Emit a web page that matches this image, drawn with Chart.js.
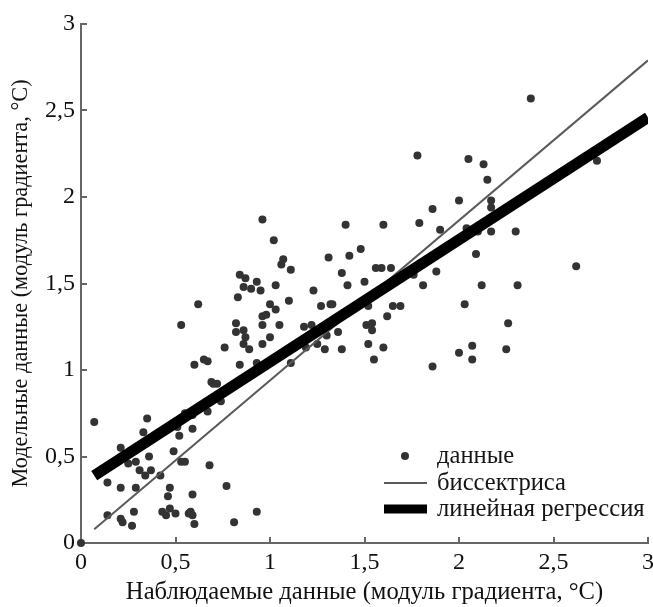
<!DOCTYPE html>
<html>
<head>
<meta charset="utf-8">
<script src="https://cdn.jsdelivr.net/npm/chart.js@4/dist/chart.umd.min.js"></script>
<style>
  html, body { margin: 0; padding: 0; background: #fff; }
  #wrap { width: 653px; height: 607px; position: relative; }
</style>
</head>
<body>
<div id="wrap"><canvas id="chart"></canvas></div>
<script>
const observed = [
  0, 0.07, 0.35, 0.33, 0.21, 0.25, 0.29, 0.31, 0.34, 0.37, 0.36, 0.14, 0.21, 0.29, 0.42, 0.47, 0.46, 0.43, 0.45, 0.47,
  0.50, 0.57, 0.58, 0.59, 0.59, 0.60, 0.14, 0.21, 0.22, 0.27, 0.28, 0.81, 0.93, 0.77, 0.68, 0.49, 0.53, 0.55, 0.52, 0.51,
  0.59, 0.55, 0.59, 0.67, 0.74, 0.69, 0.70, 0.72, 0.60, 0.65, 0.67, 0.84, 0.93, 0.76, 0.86, 0.89, 0.96, 1.00, 0.87, 0.86,
  0.82, 0.82, 0.96, 0.96, 0.98, 0.53, 0.62, 1.00, 0.83, 0.86, 0.90, 0.95, 0.84, 0.87, 0.93, 0.96, 1.03, 1.05, 1.10, 1.03,
  1.02, 1.07, 1.06, 1.11, 1.11, 1.18, 1.22, 1.19, 1.25, 1.29, 1.23, 1.27, 1.32, 1.33, 1.31, 1.38, 1.36, 1.30, 1.38, 1.40,
  1.42, 1.41, 1.48, 1.50, 1.52, 1.51, 1.54, 1.54, 1.52, 1.55, 1.56, 1.59, 1.64, 1.60, 1.60, 1.62, 1.65, 1.69, 1.76, 1.78,
  1.79, 1.81, 1.86, 1.88, 1.90, 1.86, 2.00, 2.00, 2.03, 2.04, 2.05, 2.07, 2.07, 2.09, 2.10, 2.12, 2.13, 2.15, 2.17, 2.17,
  2.17, 2.25, 2.26, 2.30, 2.31, 2.38, 2.62, 2.73
];
const modelled = [
  0, 0.70, 0.72, 0.64, 0.55, 0.46, 0.47, 0.42, 0.39, 0.42, 0.50, 0.35, 0.32, 0.32, 0.39, 0.32, 0.27, 0.18, 0.16, 0.20,
  0.17, 0.17, 0.18, 0.16, 0.28, 0.11, 0.16, 0.14, 0.12, 0.10, 0.18, 0.12, 0.18, 0.33, 0.45, 0.53, 0.47, 0.47, 0.62, 0.67,
  0.66, 0.75, 0.74, 0.76, 0.82, 0.93, 0.92, 0.92, 1.03, 1.06, 1.05, 1.03, 1.04, 1.13, 1.15, 1.12, 1.15, 1.19, 1.19, 1.23,
  1.22, 1.27, 1.26, 1.31, 1.32, 1.26, 1.38, 1.38, 1.42, 1.48, 1.47, 1.46, 1.55, 1.53, 1.51, 1.87, 1.49, 1.26, 1.40, 1.35,
  1.75, 1.64, 1.61, 1.58, 1.04, 1.25, 1.26, 1.13, 1.15, 1.12, 1.46, 1.37, 1.38, 1.38, 1.65, 1.56, 1.22, 1.20, 1.12, 1.84,
  1.66, 1.49, 1.70, 1.51, 1.37, 1.26, 1.27, 1.23, 1.15, 1.06, 1.59, 1.59, 1.59, 1.84, 1.13, 1.31, 1.37, 1.37, 1.55, 2.24,
  1.85, 1.49, 1.93, 1.57, 1.81, 1.02, 1.98, 1.10, 1.38, 1.82, 2.22, 1.14, 1.06, 1.67, 1.80, 1.49, 2.19, 2.10, 1.98, 1.94,
  1.80, 1.12, 1.27, 1.80, 1.49, 2.57, 1.60, 2.21
];

// the two fitted lines (end points as drawn)
const bisectorX = [0.07, 3];
const bisectorY = [0.08, 2.79];
const regressionX = [0.07, 3];
const regressionY = [0.39, 2.46];

const tickValues = [0, 0.5, 1, 1.5, 2, 2.5, 3];
const seriesNames = ['данные', 'биссектриса', 'линейная регрессия'];
const xTitle = 'Наблюдаемые данные (модуль градиента, °C)';
const yTitle = 'Модельные данные (модуль градиента, °C)';

const pts = (xs, ys) => xs.map((x, i) => ({ x, y: ys[i] }));
const fmt = v => String(v).replace('.', ',');
const serif = '"Liberation Serif", "DejaVu Serif", serif';

// legend drawn inside the plot, lower right
const insideLegend = {
  id: 'insideLegend',
  afterDraw(chart) {
    const ctx = chart.ctx;
    const a = chart.chartArea;
    const x0 = a.right - 264, tx = a.right - 211;
    const rows = [a.bottom - 87, a.bottom - 60, a.bottom - 34];
    ctx.save();
    ctx.font = '24.6px ' + serif;
    ctx.textBaseline = 'middle';
    chart.data.datasets.forEach((ds, i) => {
      const y = rows[i];
      if (i === 0) {
        ctx.beginPath();
        ctx.fillStyle = ds.backgroundColor;
        ctx.arc(x0 + 21, y, 4, 0, Math.PI * 2);
        ctx.fill();
      } else {
        ctx.beginPath();
        ctx.strokeStyle = ds.borderColor;
        ctx.lineWidth = i === 2 ? 9 : ds.borderWidth;
        ctx.moveTo(x0, y);
        ctx.lineTo(x0 + 43, y);
        ctx.stroke();
      }
      ctx.fillStyle = '#151515';
      ctx.fillText(ds.label, tx, y + 1);
    });
    ctx.restore();
  }
};

new Chart(document.getElementById('chart'), {
  type: 'scatter',
  data: {
    datasets: [
      { label: seriesNames[0], data: pts(observed, modelled), backgroundColor: '#333', borderWidth: 0, pointRadius: 4, clip: false, order: 3 },
      { label: seriesNames[1], data: pts(bisectorX, bisectorY), showLine: true, borderColor: '#5a5a5a', backgroundColor: '#5a5a5a', borderWidth: 2, pointRadius: 0, order: 2 },
      { label: seriesNames[2], data: pts(regressionX, regressionY), showLine: true, borderColor: '#000', backgroundColor: '#000', borderWidth: 11, borderCapStyle: 'butt', pointRadius: 0, order: 1 }
    ]
  },
  options: {
    responsive: true, maintainAspectRatio: false, animation: false,
    layout: { padding: { top: 24, right: 5, left: 0, bottom: 0 } },
    plugins: { legend: { display: false }, tooltip: { enabled: false } },
    scales: {
      x: {
        type: 'linear', min: 0, max: 3,
        afterBuildTicks: s => { s.ticks = tickValues.map(v => ({ value: v })); },
        afterFit: s => { s.height = 64; s.paddingLeft = 0; s.paddingRight = 0; },
        border: { color: '#666', width: 2 },
        grid: { drawOnChartArea: false, tickLength: -6, color: '#666', lineWidth: 2 },
        ticks: { color: '#111', padding: 11, maxRotation: 0, font: { family: serif, size: 24 }, callback: fmt },
        title: { display: true, text: xTitle, color: '#111', font: { family: serif, size: 24.6 }, padding: { top: 0, bottom: 0 } }
      },
      y: {
        type: 'linear', min: 0, max: 3,
        afterBuildTicks: s => { s.ticks = tickValues.map(v => ({ value: v })); },
        afterFit: s => { s.width = 81; s.paddingTop = 0; s.paddingBottom = 0; },
        border: { color: '#666', width: 2 },
        grid: { drawOnChartArea: false, tickLength: -6, color: '#666', lineWidth: 2 },
        ticks: { color: '#111', padding: 12, font: { family: serif, size: 24 }, callback: fmt },
        title: { display: true, text: yTitle, color: '#111', font: { family: serif, size: 22.3 }, padding: { top: 8, bottom: 0 } }
      }
    }
  },
  plugins: [insideLegend]
});
</script>
</body>
</html>
